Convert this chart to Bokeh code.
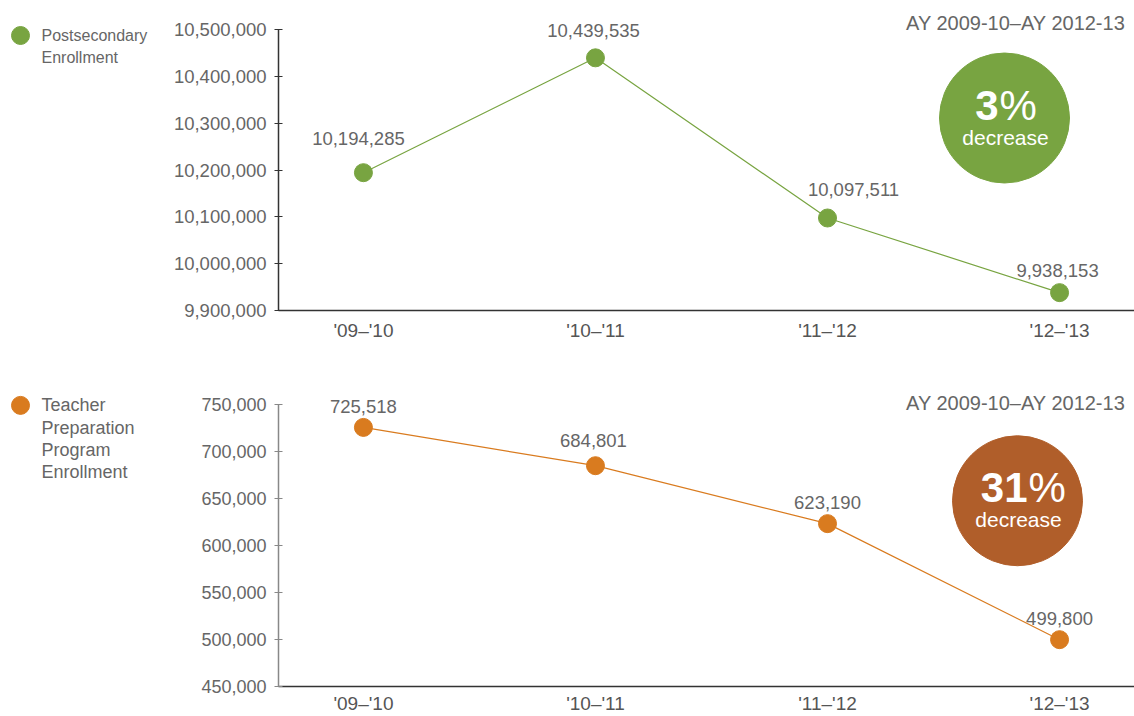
from bokeh.plotting import figure
from bokeh.models import Range1d, FixedTicker, NumeralTickFormatter, ColumnDataSource, LabelSet, Label
from bokeh.layouts import row, column
from bokeh.embed import file_html
from bokeh.resources import INLINE
from bokeh.core.properties import value

# ---------------- data ----------------
periods = ["'09–'10", "'10–'11", "'11–'12", "'12–'13"]
postsecondary = [10194285, 10439535, 10097511, 9938153]
teacher_prep = [725518, 684801, 623190, 499800]
post_ticks = [9900000, 10000000, 10100000, 10200000, 10300000, 10400000, 10500000]
teacher_ticks = [450000, 500000, 550000, 600000, 650000, 700000, 750000]
period_label = "AY 2009-10–AY 2012-13"
post_legend = ["Postsecondary", "Enrollment"]
teacher_legend = ["Teacher", "Preparation", "Program", "Enrollment"]

FONT = "Liberation Sans"
GREEN = "#78a441"
ORANGE = "#d97b1f"
RUST = "#b05e2a"

X_START, X_END = -0.366, 3.323
FRAME_W = 856  # frame width in px


def pct_decrease(vals):
    return round((vals[0] - vals[-1]) / vals[0] * 100)


def legend_fig(page_top, height, b_top, b_bottom, color, lines, dot_y, gap, fsize):
    # y range expressed in page pixels of the (row-aligned) frame
    lf = figure(width=158, height=height, x_range=Range1d(0, 158),
                y_range=Range1d(page_top + height - b_bottom, page_top + b_top),
                x_axis_type=None, y_axis_type=None, min_border=0,
                min_border_top=b_top, min_border_bottom=b_bottom,
                output_backend="svg", toolbar_location=None)
    lf.grid.visible = False
    lf.outline_line_color = None
    lf.scatter([20], [dot_y], size=18, fill_color=color, line_color=color)
    lf.text(x=[41] * len(lines), y=[dot_y + i * gap for i in range(len(lines))], text=lines,
            text_font=value(FONT), text_font_size=fsize, text_color="#666666",
            text_align="left", text_baseline="middle")
    return lf


def panel(vals, ticks, color, circ_color, height, b_top, b_bottom, tick_span_px, pad_px,
          yaxis_color, ylab_size, dx, dy, x_standoff, title_dy, circ_px, big_dx, big_text):
    xs = list(range(len(periods)))
    span = ticks[-1] - ticks[0]
    px_per_unit = tick_span_px / span
    y_end = ticks[-1] + pad_px / px_per_unit
    p = figure(width=976, height=height, x_range=Range1d(X_START, X_END),
               y_range=Range1d(ticks[0], y_end),
               output_backend="svg", toolbar_location=None,
               min_border_left=120, min_border_right=0,
               min_border_top=b_top, min_border_bottom=b_bottom)
    p.outline_line_color = None
    p.grid.visible = False

    src = ColumnDataSource(dict(x=xs, y=vals, label=[f"{v:,}" for v in vals], dx=dx, dy=dy))
    p.line("x", "y", source=src, line_color=color, line_width=1.2)
    p.scatter("x", "y", source=src, size=18, fill_color=color, line_color=color)
    p.add_layout(LabelSet(x="x", y="y", text="label", x_offset="dx", y_offset="dy", source=src,
                          text_align="center", text_baseline="middle",
                          text_font=value(FONT), text_font_size="18.5px", text_color="#666666"))

    # axes
    p.xaxis.ticker = FixedTicker(ticks=xs)
    p.xaxis.major_label_overrides = {i: s for i, s in enumerate(periods)}
    p.xaxis.major_tick_line_color = None
    p.xaxis.major_tick_in = 0
    p.xaxis.major_tick_out = 0
    p.xaxis.minor_tick_line_color = None
    p.xaxis.axis_line_color = "#333333"
    p.xaxis.axis_line_width = 1.5
    p.xaxis.major_label_standoff = x_standoff
    p.xaxis.major_label_text_font = FONT
    p.xaxis.major_label_text_font_size = "19px"
    p.xaxis.major_label_text_color = "#555555"

    p.yaxis.ticker = FixedTicker(ticks=ticks)
    p.yaxis.bounds = (ticks[0], ticks[-1])
    p.yaxis.formatter = NumeralTickFormatter(format="0,0")
    p.yaxis.axis_line_color = yaxis_color
    p.yaxis.axis_line_width = 1.5
    p.yaxis.major_tick_line_color = yaxis_color
    p.yaxis.major_tick_in = 4
    p.yaxis.major_tick_out = 4
    p.yaxis.minor_tick_line_color = None
    p.yaxis.major_label_standoff = 8
    p.yaxis.major_label_text_font = FONT
    p.yaxis.major_label_text_font_size = ylab_size
    p.yaxis.major_label_text_color = "#666666"

    # period title (top right)
    p.add_layout(Label(x=X_END, y=ticks[-1], x_offset=-9, y_offset=title_dy, text=period_label,
                       text_align="right", text_baseline="middle",
                       text_font=FONT, text_font_size="20px", text_color="#666666"))

    # badge circle (position given in px: from frame right, and below the top tick)
    px_x, px_y = circ_px
    cx = X_END - px_x / FRAME_W * (X_END - X_START)
    cy = ticks[-1] - px_y / px_per_unit
    p.scatter([cx], [cy], size=130, fill_color=circ_color, line_color=circ_color)
    p.add_layout(Label(x=cx, y=cy, x_offset=big_dx, y_offset=13, text=big_text,
                       text_align="right", text_baseline="middle", text_font_style="bold",
                       text_font=FONT, text_font_size="42px", text_color="white"))
    p.add_layout(Label(x=cx, y=cy, x_offset=big_dx + 1, y_offset=13, text="%",
                       text_align="left", text_baseline="middle",
                       text_font=FONT, text_font_size="42px", text_color="white"))
    p.add_layout(Label(x=cx, y=cy, x_offset=1, y_offset=-19, text="decrease",
                       text_align="center", text_baseline="middle",
                       text_font=FONT, text_font_size="21px", text_color="white"))
    return p


TOP_H, BOT_H = 370, 346

top = panel(postsecondary, post_ticks, GREEN, GREEN, height=TOP_H, b_top=8, b_bottom=60,
            tick_span_px=281, pad_px=21, yaxis_color="#333333", ylab_size="18.5px",
            dx=[-5, -2, 26, -2], dy=[34, 27, 28, 22], x_standoff=9, title_dy=7,
            circ_px=(130, 88.5), big_dx=-6, big_text=str(pct_decrease(postsecondary)))
bottom = panel(teacher_prep, teacher_ticks, ORANGE, RUST, height=BOT_H, b_top=18, b_bottom=28,
               tick_span_px=284, pad_px=16, yaxis_color="#888888", ylab_size="18px",
               dx=[0, -2, 0, 0], dy=[21, 25, 21, 21], x_standoff=6, title_dy=1,
               circ_px=(117, 97), big_dx=10, big_text=str(pct_decrease(teacher_prep)))

leg_top = legend_fig(0, TOP_H, 8, 60, GREEN, post_legend, 35, 22, "16px")
leg_bottom = legend_fig(TOP_H, BOT_H, 18, 28, ORANGE, teacher_legend, 405, 22.3, "18px")

layout = column(row(leg_top, top), row(leg_bottom, bottom))

with open("out.html", "w") as f:
    f.write(file_html(layout, INLINE))
